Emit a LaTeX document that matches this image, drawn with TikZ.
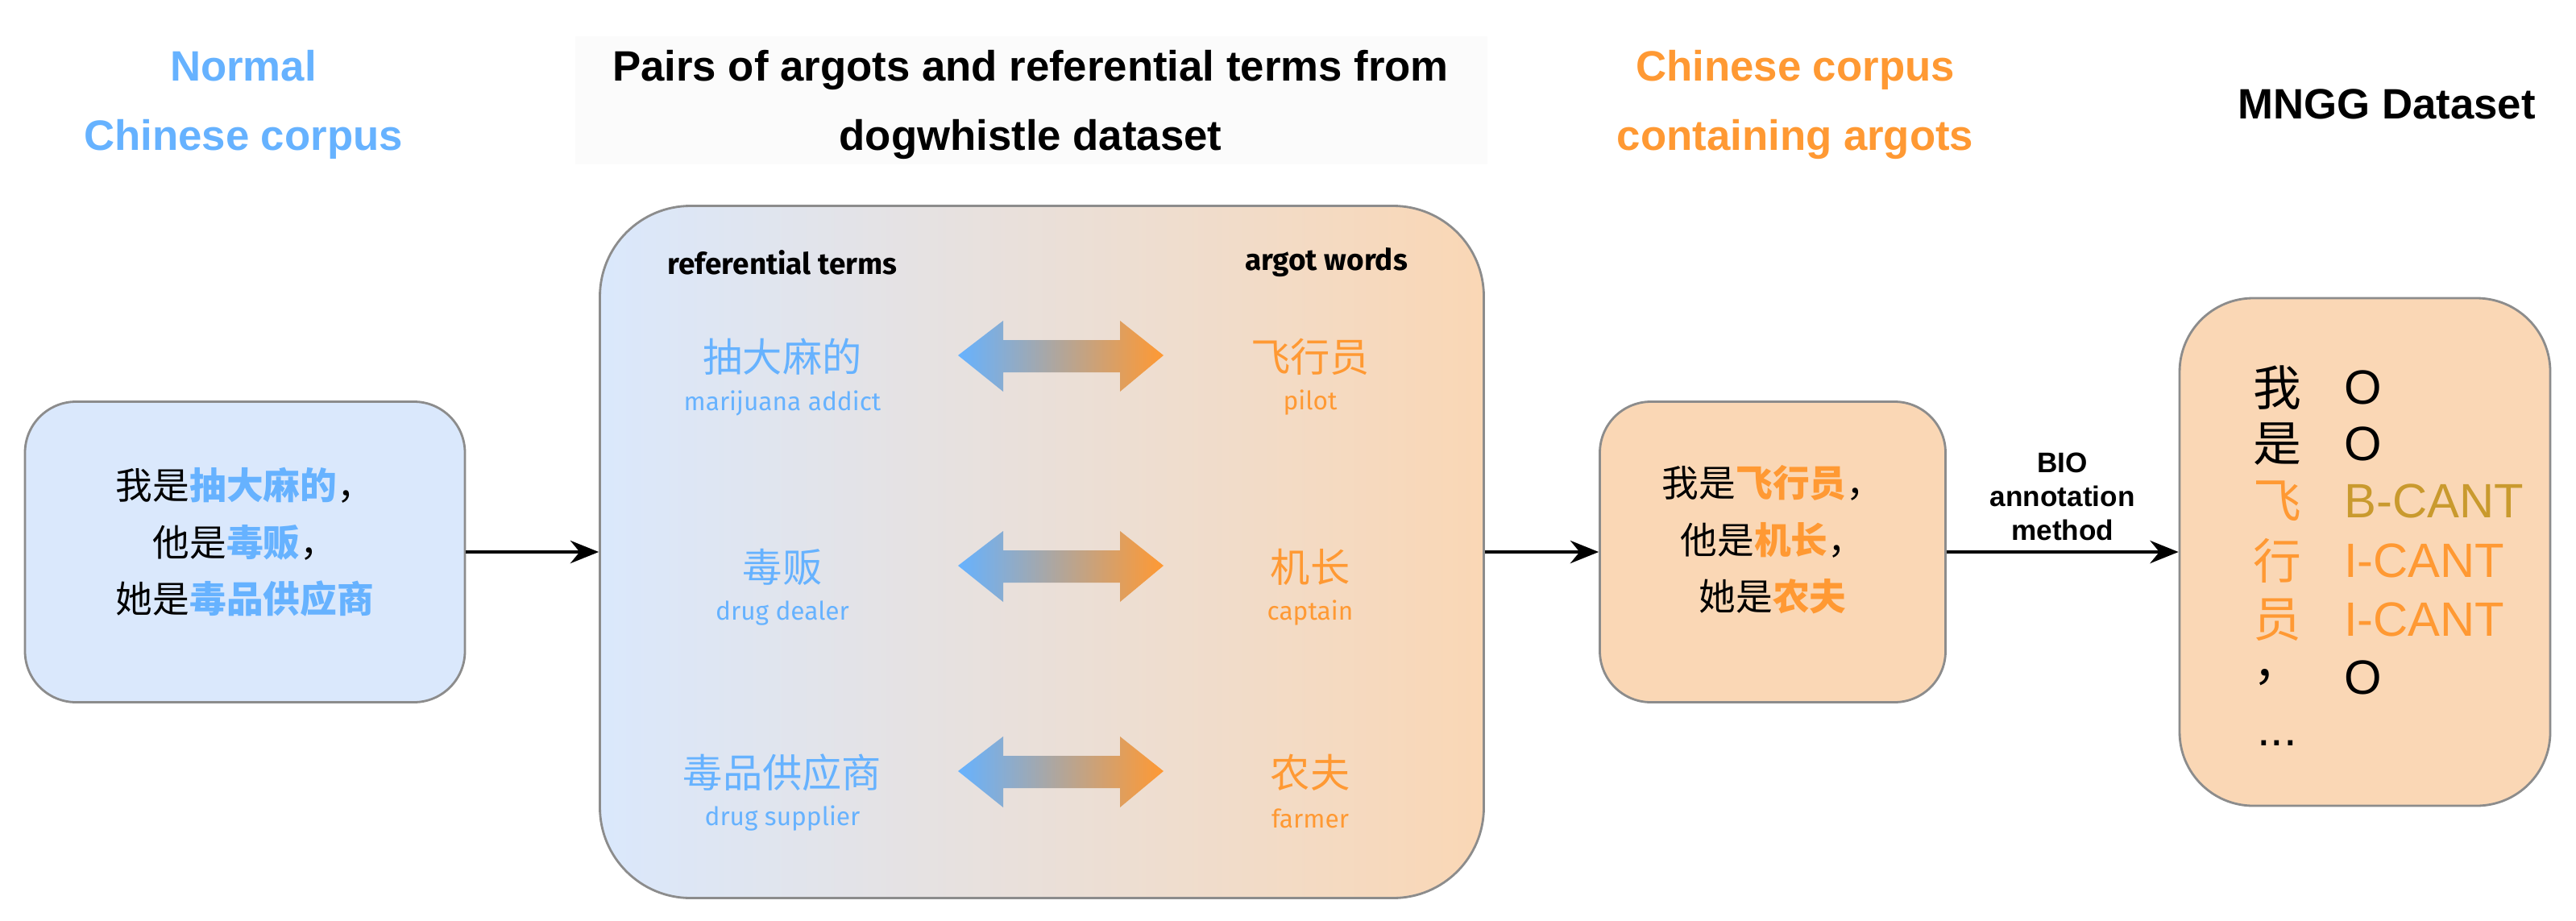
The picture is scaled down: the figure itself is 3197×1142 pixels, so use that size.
\documentclass[tikz,border=0pt]{standalone}
\usepackage{fontspec}
\setmainfont{Liberation Sans}
\newfontfamily\cjk{Noto Sans CJK SC}
\newfontfamily\comic{Fira Sans}
\usetikzlibrary{arrows.meta}
\definecolor{myblue}{HTML}{66B2FF}
\definecolor{myorange}{HTML}{FF9933}
\definecolor{lblue}{HTML}{DAE8FC}
\definecolor{lorange}{HTML}{FAD7B5}
\definecolor{gold}{HTML}{C99A2E}
\definecolor{bord}{HTML}{8C8C8C}
\begin{document}
\begin{tikzpicture}[x=0.01cm,y=-0.01cm,
  box/.style={draw=bord,line width=0.8pt,rounded corners=18pt,inner sep=0pt},
  title/.style={font=\fontsize{15}{24.5}\selectfont\bfseries,align=center},
  sent/.style={font=\fontsize{13}{20}\selectfont\cjk,align=center},
  zh/.style={font=\fontsize{14}{16}\selectfont\cjk},
  en/.style={font=\fontsize{9}{11}\selectfont\comic},
  hd/.style={font=\fontsize{10.5}{12}\selectfont\comic\bfseries},
  tag/.style={font=\fontsize{17}{20}\selectfont},
  conn/.style={-{Stealth[length=10pt,width=8pt]},line width=1.2pt}]
\useasboundingbox (0,0) rectangle (3197,1142);
% boxes
\node[box,fill=lblue,minimum width=546*0.01cm,minimum height=373*0.01cm] (left) at (304,685) {};
\node[box,rounded corners=32pt,left color=lblue,right color=lorange,minimum width=1097*0.01cm,minimum height=859*0.01cm] (big) at (1293,685) {};
\node[box,fill=lorange,minimum width=429*0.01cm,minimum height=373*0.01cm] (mid) at (2200,685) {};
\node[box,rounded corners=26pt,fill=lorange,minimum width=460*0.01cm,minimum height=630*0.01cm] (right) at (2935,685) {};
% titles
\node[title,text=myblue] (t1) at (302,130) {Normal\\Chinese corpus};
\fill[black!1.5] (714,45) rectangle (1846,204);
\node[title] (t2) at (1279,130) {Pairs of argots and referential terms from\\dogwhistle dataset};
\node[title,text=myorange] (t3) at (2228,130) {Chinese corpus\\containing argots};
\node[title] (t4) at (2962,129) {MNGG Dataset};
% sentences
\node[sent] (s1) at (304,673) {我是\textcolor{myblue}{\bfseries 抽大麻的}，\\他是\textcolor{myblue}{\bfseries 毒贩}，\\她是\textcolor{myblue}{\bfseries 毒品供应商}};
\node[sent] (s2) at (2200,670) {我是\textcolor{myorange}{\bfseries 飞行员}，\\他是\textcolor{myorange}{\bfseries 机长}，\\她是\textcolor{myorange}{\bfseries 农夫}};
% big box content
\node[hd] (h1) at (971,326) {referential terms};
\node[hd] (h2) at (1646,326) {argot words};
\foreach \i/\zl/\el/\zr/\er/\y in {1/抽大麻的/marijuana addict/飞行员/pilot/443,2/毒贩/drug dealer/机长/captain/704,3/毒品供应商/drug supplier/农夫/farmer/959}{
  \node[zh,text=myblue] (l\i) at (971,\y) {\zl};
  \node[en,text=myblue] (le\i) at (971,\y+57) {\el};
  \node[zh,text=myorange] (r\i) at (1626,\y) {\zr};
  \node[en,text=myorange] (re\i) at (1626,\y+57) {\er};
  \shade[left color=myblue,right color=myorange]
    (1189,\y-2) -- (1245,\y-45) -- (1245,\y-21) -- (1390,\y-21) -- (1390,\y-45)
    -- (1444,\y-2) -- (1390,\y+43) -- (1390,\y+19) -- (1245,\y+19) -- (1245,\y+43) -- cycle;
}
% right box content
\foreach \c/\t/\cc/\tc/\y in {我/O/black/black/481,是/O/black/black/551,飞/B-CANT/myorange/gold/622,行/I-CANT/myorange/myorange/696,员/I-CANT/myorange/myorange/769,，/O/black/black/841}{
  \node[font=\fontsize{17}{20}\selectfont\cjk,text=\cc,inner sep=1pt] at (2826,\y) {\c};
  \node[tag,text=\tc,anchor=west,inner sep=1pt] at (2905,\y) {\t};
}
\node[tag] (dots) at (2826,922) {...};
% connectors
\draw[conn] (left.east) -- (big.west);
\draw[conn] (big.east) -- (mid.west);
\draw[conn] (mid.east) -- node[above,font=\fontsize{10}{12}\selectfont\bfseries,align=center] {BIO\\annotation\\method} (right.west);
\end{tikzpicture}
\end{document}
